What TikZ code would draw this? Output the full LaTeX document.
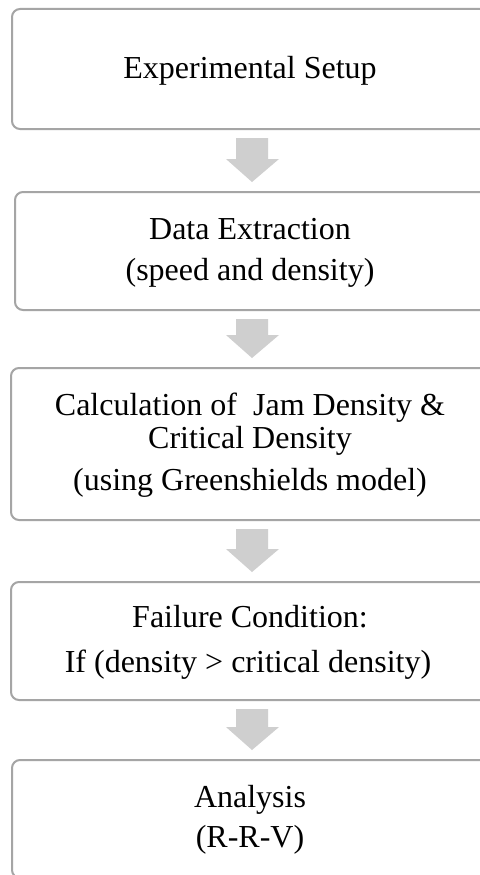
\documentclass[tikz,border=0pt]{standalone}
\usepackage{fontspec}
\setmainfont{Liberation Serif}
\usetikzlibrary{calc}
\definecolor{boxline}{HTML}{A5A5A5}
\definecolor{arrowfill}{HTML}{CFCFCF}
\tikzset{
  stepbox/.style={draw=boxline, line width=2pt, rounded corners=8pt, rectangle, inner sep=0pt},
  txt/.style={anchor=base, inner sep=0pt, font=\fontsize{32}{36}\selectfont, text=black},
  blk/.style={fill=arrowfill, draw=none}
}
\newcommand\blkarrow[2]{%
  \fill[blk] let \p1=(#1.south), \p2=(#2.north) in
    (236pt,\y1-8pt) -- (268pt,\y1-8pt) -- (268pt,\y2+32pt) -- (279pt,\y2+32pt)
    -- (252pt,\y2+9pt) -- (226pt,\y2+32pt) -- (236pt,\y2+32pt) -- cycle;
}
\begin{document}
\begin{tikzpicture}[x=1pt,y=-1pt]
\useasboundingbox (0,0) rectangle (479,875);
\fill[white] (0,0) rectangle (479,875);
% boxes
\node[stepbox, minimum width=476pt, minimum height=120pt] (b1) at (250,69) {};
\node[stepbox, minimum width=473pt, minimum height=118pt] (b2) at (251.5,251) {};
\node[stepbox, minimum width=478pt, minimum height=152pt] (b3) at (250,444) {};
\node[stepbox, minimum width=478pt, minimum height=118pt] (b4) at (250,641) {};
\node[stepbox, minimum width=476pt, minimum height=118pt] (b5) at (250,819) {};
% texts
\node[txt] (t1) at (250,78) {Experimental Setup};
\node[txt] (t2a) at (250,239) {Data Extraction};
\node[txt] (t2b) at (250,280) {(speed and density)};
\node[txt] (t3a) at (250,415) {Calculation of\ \ Jam Density \&};
\node[txt] (t3b) at (250,448) {Critical Density};
\node[txt] (t3c) at (250,490) {(using Greenshields model)};
\node[txt] (t4a) at (250,627) {Failure Condition:};
\node[txt] (t4b) at (248,672) {If (density > critical density)};
\node[txt] (t5a) at (250,807) {Analysis};
\node[txt] (t5b) at (250,847) {(R-R-V)};
% arrows
\blkarrow{b1}{b2}
\blkarrow{b2}{b3}
\blkarrow{b3}{b4}
\blkarrow{b4}{b5}
\end{tikzpicture}
\end{document}
